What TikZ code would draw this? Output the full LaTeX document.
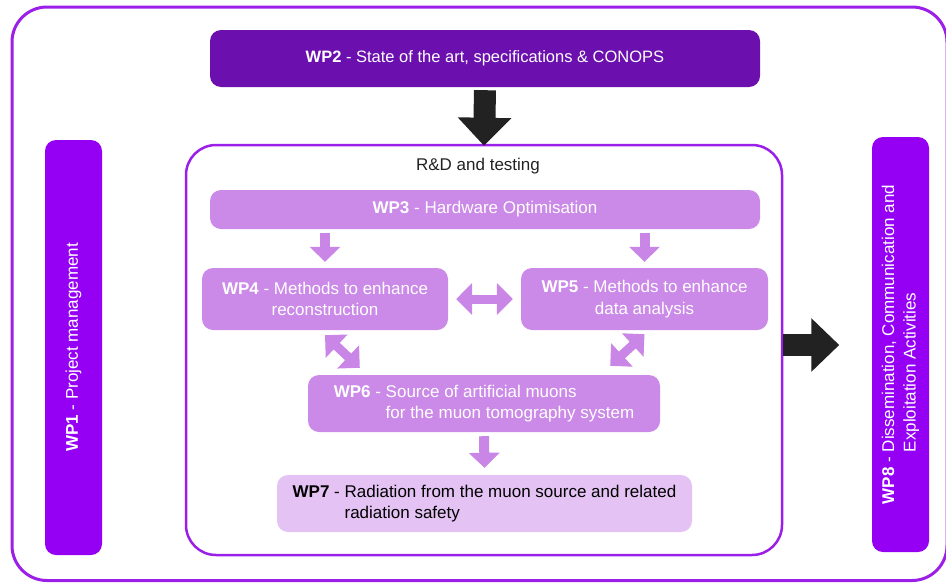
\documentclass[tikz,border=0pt]{standalone}
\usepackage{fontspec}
\setmainfont{Liberation Sans}
\usetikzlibrary{arrows.meta,calc}

\definecolor{framepurple}{HTML}{9B1FE8}
\definecolor{wpviolet}{HTML}{9500F5}
\definecolor{wpdark}{HTML}{6B0FAE}
\definecolor{wplight}{HTML}{CB89E8}
\definecolor{wppale}{HTML}{E4C3F4}
\definecolor{lavarrow}{HTML}{C986E6}
\definecolor{darkarrow}{HTML}{222222}

\tikzset{
  wpbox/.style={rounded corners=11pt, inner sep=0pt, align=center,
    font=\fontsize{17}{21.5}\selectfont},
  wpwhite/.style={wpbox, fill=wplight, text=white},
  wpside/.style={wpbox, fill=wpviolet, text=white, rotate=90,
    minimum width=415pt, minimum height=57pt},
  lavline/.style={draw=lavarrow, line width=10pt,
    -{Triangle[length=15pt,width=30pt]}},
  lavboth/.style={draw=lavarrow, line width=9pt,
    {Triangle[length=16pt,width=31pt]}-{Triangle[length=16pt,width=31pt]}},
  bigarrow/.style={draw=darkarrow, line width=22pt,
    -{Triangle[length=28pt,width=52pt]}}
}

\begin{document}
\begin{tikzpicture}[x=1pt,y=-1pt]
	\useasboundingbox (0,0) rectangle (946,582);
	% outer frame
	\draw[framepurple, line width=3pt, rounded corners=35pt] (12,7) rectangle (947,580.5);

	\node[wpbox, fill=wpdark, text=white, minimum width=550pt, minimum height=57pt,
	  font=\fontsize{16.5}{20}\selectfont] (wp2) at (485,58.5)
	  {\textbf{WP2} - State of the art, specifications \& CONOPS};

	\node[wpside] (wp1) at (73.5,347.5) {\textbf{WP1} - Project management};
	\node[wpside] (wp8) at (900.5,344.5)
	  {\textbf{WP8} - \begin{tabular}[t]{@{}l@{}}Dissemination, Communication and\\Exploitation Activities\end{tabular}};

	% R&D block
	\node[draw=framepurple, line width=2.5pt, rounded corners=30pt,
	  minimum width=596pt, minimum height=410pt, inner sep=0pt] (rd) at (484,350) {};
	\node[text=darkarrow, font=\fontsize{17}{20}\selectfont] (rdlabel) at (478,166) {R\&D and testing};

	\node[wpwhite, minimum width=550pt, minimum height=39pt] (wp3) at (485,209.5)
	  {\textbf{WP3} - Hardware Optimisation};
	\node[wpwhite, minimum width=246pt, minimum height=62pt] (wp4) at (325,299)
	  {\textbf{WP4} - Methods to enhance\\reconstruction};
	\node[wpwhite, minimum width=247pt, minimum height=62pt] (wp5) at (644.5,299)
	  {\textbf{WP5} - Methods to enhance\\data analysis};
	\node[wpwhite, minimum width=352pt, minimum height=57pt] (wp6) at (484,403.5)
	  {\textbf{WP6} - \begin{tabular}[t]{@{}l@{}}Source of artificial muons\\for the muon tomography system\end{tabular}};
	\node[wpbox, fill=wppale, text=black, minimum width=415pt, minimum height=57pt] (wp7) at (484.5,503.5)
	  {\textbf{WP7} - \begin{tabular}[t]{@{}l@{}}Radiation from the muon source and related\\radiation safety\end{tabular}};

	% connectors
	\draw[bigarrow] ([yshift=-3pt]wp2.south) -- ([yshift=-2pt]rd.north);
	\draw[bigarrow] ($(rd.east)+(0,-5)$) coordinate (rdout) -- ++(56,0) coordinate (rdtip);
	\draw[lavline] ([yshift=-4pt]wp3.south -| wp4.north) -- ([yshift=6pt]wp4.north);
	\draw[lavline] ([yshift=-4pt]wp3.south -| wp5.north) -- ([yshift=6pt]wp5.north);
	\draw[lavboth] ([xshift=8pt]wp4.east) -- ([xshift=-8pt]wp5.west);
	\draw[lavboth] ([yshift=-5pt]wp4.south) -- ($(wp6.north west)+(52,-7)$);
	\draw[lavboth] ([yshift=-4pt]wp5.south) -- ($(wp6.north east)+(-50,-9)$);
	\draw[lavline] ([yshift=-4pt]wp6.south) -- ([yshift=7pt]wp7.north);
\end{tikzpicture}
\end{document}
